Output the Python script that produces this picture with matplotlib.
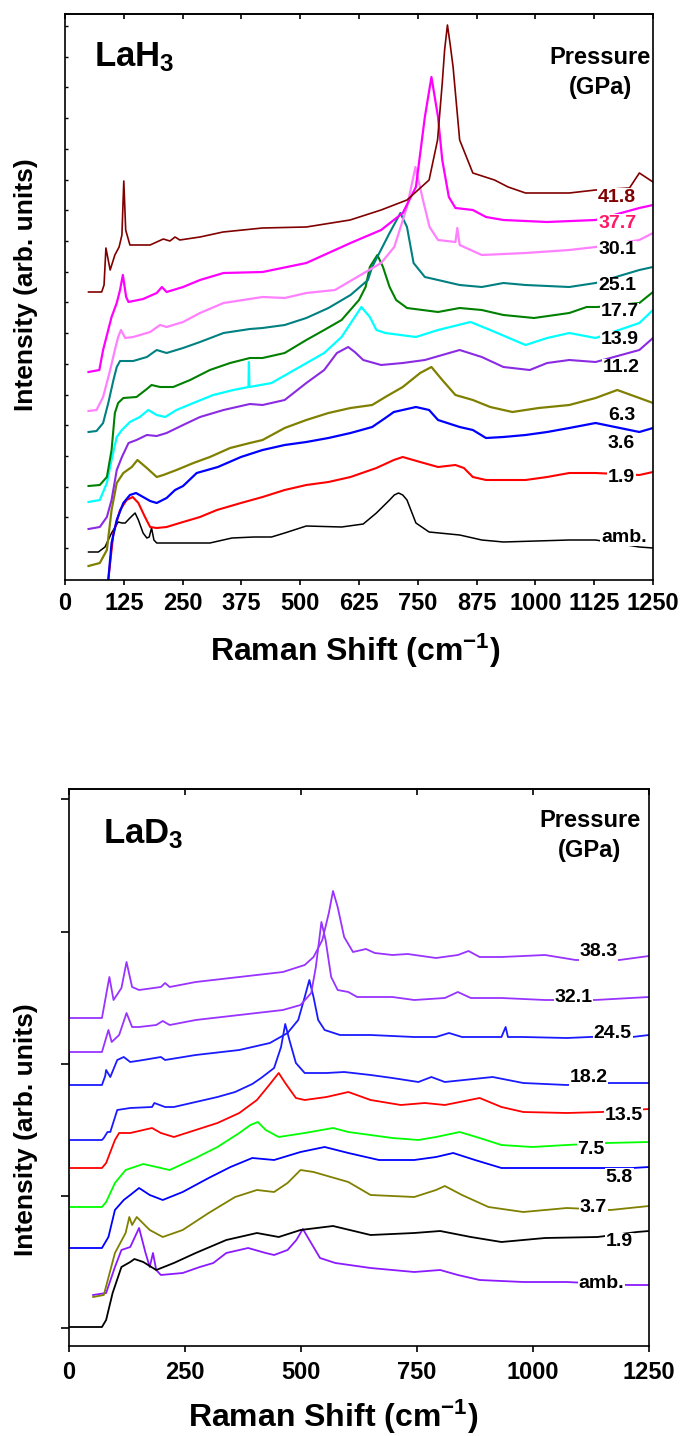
import numpy as np
import matplotlib
matplotlib.use('Agg')
import matplotlib.pyplot as plt

# ---------------- LaH3 spectra (Raman shift in cm-1, intensity in arb. units, offset) ----------------
h_amb_x = [50, 71, 85, 99, 113, 121, 128, 138, 149, 156, 166, 174, 179, 184, 189, 195, 253, 308, 355, 402,
           439, 467, 513, 588, 634, 662, 690, 700, 709, 718, 727, 746, 774, 839, 886, 932, 1072, 1128, 1221, 1250]
h_amb_y = [28, 28, 33, 47, 58, 57, 57, 62, 67, 60, 47, 42, 43, 52, 40, 37, 37, 37, 42, 43,
           43, 47, 54, 53, 56, 67, 80, 85, 87, 85, 80, 57, 48, 45, 40, 38, 40, 40, 33, 32]

h_19_x = [85, 92, 103, 117, 131, 144, 156, 170, 181, 195, 216, 251, 287, 323, 374, 420, 467, 513, 560, 607,
          662, 699, 718, 755, 793, 830, 848, 867, 895, 979, 1025, 1072, 1128, 1221, 1250]
h_19_y = [-36, 0, 47, 70, 80, 83, 77, 63, 53, 52, 53, 58, 63, 70, 77, 83, 90, 95, 98, 103,
          112, 120, 123, 118, 113, 115, 112, 103, 100, 100, 103, 107, 107, 105, 108]

h_36_x = [85, 92, 99, 110, 124, 138, 151, 166, 181, 195, 216, 234, 251, 280, 325, 374, 420, 467, 513, 560,
          607, 653, 681, 699, 746, 774, 793, 839, 867, 895, 932, 979, 1025, 1072, 1128, 1221, 1250]
h_36_y = [-36, 0, 37, 60, 77, 85, 87, 83, 79, 77, 82, 90, 94, 107, 113, 123, 130, 135, 138, 142,
          147, 153, 162, 168, 173, 170, 160, 153, 150, 142, 143, 145, 148, 152, 157, 148, 152]

h_63_x = [50, 74, 89, 99, 110, 124, 142, 154, 174, 195, 209, 237, 273, 308, 351, 393, 420, 467, 513, 560,
          607, 653, 681, 718, 755, 779, 802, 830, 867, 904, 951, 1007, 1072, 1128, 1174, 1221, 1250]
h_63_y = [14, 17, 30, 70, 97, 107, 113, 120, 112, 103, 105, 110, 117, 123, 132, 137, 140, 152, 160, 167,
          172, 175, 183, 193, 207, 213, 200, 185, 180, 173, 168, 172, 175, 182, 190, 182, 177]

h_112_x = [50, 74, 89, 99, 110, 121, 135, 152, 174, 195, 216, 251, 287, 337, 393, 420, 467, 513, 551, 578,
           602, 616, 634, 672, 718, 765, 839, 886, 932, 988, 1025, 1072, 1128, 1221, 1250]
h_112_y = [51, 53, 63, 80, 110, 123, 137, 140, 145, 144, 147, 155, 163, 170, 176, 175, 180, 197, 210, 227,
           233, 228, 220, 215, 217, 220, 230, 223, 213, 210, 217, 220, 218, 230, 242]

h_139_x = [50, 74, 89, 99, 110, 121, 138, 159, 177, 195, 213, 237, 273, 315, 358, 390, 391, 392, 439, 495,
           551, 588, 616, 630, 648, 662, 681, 746, 793, 862, 904, 979, 1025, 1072, 1128, 1221, 1250]
h_139_y = [78, 80, 97, 120, 143, 150, 158, 163, 170, 165, 163, 170, 177, 185, 190, 193, 218, 193, 197, 212,
           227, 243, 263, 273, 263, 250, 247, 243, 250, 258, 250, 235, 242, 247, 242, 257, 270]

h_177_x = [50, 74, 89, 99, 106, 113, 124, 152, 174, 184, 202, 230, 266, 308, 351, 393, 420, 467, 513, 551,
           588, 625, 639, 648, 664, 676, 690, 704, 727, 793, 839, 886, 932, 997, 1072, 1109, 1132, 1221, 1250]
h_177_y = [94, 95, 103, 130, 167, 177, 182, 183, 191, 195, 193, 193, 200, 210, 217, 222, 222, 227, 240, 250,
           260, 280, 293, 313, 325, 313, 293, 280, 272, 268, 272, 270, 265, 262, 267, 273, 273, 277, 288]

h_251_x = [50, 67, 81, 92, 103, 110, 117, 145, 174, 195, 216, 251, 287, 337, 393, 420, 467, 513, 560, 607,
           644, 653, 690, 713, 727, 741, 765, 793, 839, 886, 932, 979, 1072, 1128, 1221, 1250]
h_251_y = [148, 149, 157, 177, 200, 213, 219, 219, 223, 230, 227, 232, 238, 247, 251, 252, 255, 262, 272, 285,
           300, 313, 347, 367, 353, 317, 303, 300, 295, 293, 297, 295, 293, 297, 310, 313]

h_301_x = [50, 67, 81, 96, 106, 113, 119, 128, 145, 181, 202, 216, 251, 287, 337, 420, 467, 513, 574, 672,
           700, 727, 745, 761, 775, 793, 830, 834, 839, 886, 979, 1072, 1128, 1221, 1250]
h_301_y = [169, 170, 183, 210, 230, 243, 250, 242, 243, 248, 255, 253, 258, 267, 277, 283, 282, 287, 290, 317,
           333, 373, 413, 380, 353, 340, 338, 352, 335, 325, 327, 330, 333, 340, 347]

h_377_x = [50, 73, 81, 99, 110, 117, 123, 130, 135, 166, 195, 206, 216, 251, 287, 337, 420, 513, 607, 672,
           718, 746, 765, 779, 793, 802, 816, 830, 867, 895, 932, 1025, 1128, 1221, 1250]
h_377_y = [208, 210, 230, 263, 277, 290, 305, 283, 278, 281, 287, 293, 288, 293, 300, 307, 308, 317, 337, 350,
           367, 393, 463, 503, 463, 420, 383, 372, 370, 363, 360, 358, 360, 372, 375]

h_418_x = [50, 78, 83, 87, 96, 106, 115, 121, 125, 129, 138, 152, 181, 209, 223, 234, 244, 287, 336, 420,
           513, 606, 672, 727, 774, 792, 802, 807, 813, 819, 825, 839, 867, 913, 942, 979, 1072, 1128, 1200, 1221, 1250]
h_418_y = [288, 288, 295, 332, 310, 325, 333, 345, 399, 350, 335, 335, 335, 341, 339, 343, 340, 343, 348, 352,
           353, 360, 370, 380, 400, 440, 497, 530, 555, 535, 513, 440, 407, 400, 393, 387, 387, 390, 392, 407, 398]

lah_labels = ['amb.', '1.9', '3.6', '6.3', '11.2', '13.9', '17.7', '25.1', '30.1', '37.7', '41.8']

# ---------------- LaD3 spectra ----------------
d_amb_x = [52, 80, 99, 113, 132, 151, 165, 174, 181, 188, 198, 245, 282, 311, 339, 386, 424, 442, 471, 490,
           504, 518, 541, 574, 650, 697, 744, 800, 838, 885, 979, 1073, 1205, 1250]
d_amb_y = [51, 53, 79, 96, 99, 118, 93, 79, 93, 76, 71, 73, 79, 83, 93, 98, 93, 91, 96, 106,
           117, 106, 88, 83, 78, 76, 74, 76, 71, 66, 64, 64, 61, 61]

d_19_x = [0, 71, 80, 94, 113, 132, 141, 160, 188, 226, 273, 339, 405, 452, 499, 569, 650, 744, 800, 866,
          932, 1026, 1139, 1224, 1250]
d_19_y = [19, 19, 26, 53, 79, 84, 87, 84, 76, 83, 93, 106, 113, 109, 116, 120, 111, 113, 115, 109,
          104, 108, 109, 114, 115]

d_37_x = [52, 75, 99, 122, 130, 136, 146, 174, 202, 245, 301, 358, 405, 442, 471, 499, 527, 602, 650, 744,
          791, 810, 847, 904, 979, 1073, 1167, 1250]
d_37_y = [49, 51, 93, 113, 129, 121, 129, 116, 109, 116, 133, 149, 156, 154, 163, 176, 174, 164, 151, 149,
          156, 160, 151, 139, 134, 138, 136, 140]

d_58_x = [0, 0, 71, 85, 99, 118, 132, 151, 174, 202, 245, 301, 348, 395, 442, 499, 551, 602, 668, 744,
          791, 828, 875, 932, 979, 1073, 1214, 1250]
d_58_y = [135, 98, 98, 109, 136, 146, 151, 158, 151, 146, 154, 168, 179, 188, 186, 194, 199, 193, 186, 186,
          189, 193, 186, 178, 178, 178, 178, 179]

d_75_x = [0, 0, 71, 80, 99, 122, 160, 198, 217, 273, 320, 367, 391, 407, 424, 452, 508, 569, 602, 697,
          753, 791, 842, 885, 932, 998, 1073, 1158, 1250]
d_75_y = [171, 139, 139, 144, 163, 176, 182, 178, 176, 188, 199, 213, 221, 224, 216, 209, 213, 218, 214, 208,
          206, 209, 214, 208, 201, 199, 201, 203, 204]

d_135_x = [0, 0, 71, 80, 99, 108, 132, 179, 198, 226, 273, 320, 367, 405, 428, 452, 466, 489, 508, 555,
           602, 650, 715, 767, 810, 885, 932, 979, 1073, 1148, 1250]
d_135_y = [204, 178, 178, 183, 206, 213, 213, 218, 213, 209, 216, 223, 233, 246, 259, 273, 263, 248, 246, 249,
           254, 246, 241, 243, 241, 248, 239, 234, 233, 234, 237]

d_182_x = [0, 71, 75, 83, 89, 104, 132, 179, 184, 207, 226, 273, 320, 358, 395, 414, 442, 457, 466, 475,
           489, 508, 555, 593, 650, 697, 753, 781, 810, 913, 979, 1073, 1167, 1250]
d_182_y = [206, 206, 208, 214, 214, 236, 238, 239, 243, 239, 239, 244, 249, 254, 262, 268, 278, 299, 322, 306,
           283, 273, 273, 274, 271, 268, 264, 269, 264, 269, 263, 261, 263, 263]

d_245_x = [0, 0, 71, 78, 80, 89, 104, 118, 132, 160, 198, 207, 273, 367, 433, 471, 494, 508, 518, 527,
           537, 551, 584, 650, 744, 791, 819, 847, 932, 941, 946, 979, 1073, 1172, 1214, 1250]
d_245_y = [294, 261, 261, 270, 276, 269, 286, 289, 284, 286, 289, 286, 291, 296, 303, 313, 326, 349, 366, 349,
           326, 316, 311, 311, 309, 309, 313, 309, 309, 319, 309, 309, 308, 310, 309, 311]

d_321_x = [0, 71, 85, 92, 108, 124, 136, 151, 188, 202, 217, 273, 367, 461, 499, 522, 532, 544, 553, 565,
           579, 602, 621, 697, 744, 810, 838, 866, 932, 1026, 1134, 1250]
d_321_y = [294, 294, 316, 304, 311, 333, 319, 319, 321, 325, 321, 326, 331, 336, 341, 353, 379, 424, 406, 369,
           356, 354, 349, 349, 346, 348, 354, 348, 348, 346, 346, 349]

d_383_x = [0, 0, 71, 87, 96, 113, 124, 136, 151, 198, 207, 217, 273, 367, 461, 508, 527, 546, 560, 569,
           579, 593, 612, 640, 659, 697, 730, 791, 838, 861, 885, 932, 1026, 1092, 1186, 1250]
d_383_y = [393, 328, 328, 369, 346, 358, 384, 359, 356, 359, 363, 359, 364, 369, 374, 381, 389, 406, 433, 455,
           439, 409, 394, 397, 393, 391, 392, 388, 391, 395, 389, 389, 391, 386, 386, 390]

lad_labels = ['amb.', '1.9', '3.7', '5.8', '7.5', '13.5', '18.2', '24.5', '32.1', '38.3']

# ---------------- style ----------------
plt.rcParams['font.family'] = ['Liberation Sans', 'DejaVu Sans']
plt.rcParams['font.weight'] = 'bold'
plt.rcParams['mathtext.fontset'] = 'custom'
plt.rcParams['mathtext.rm'] = 'Liberation Sans:bold'
plt.rcParams['mathtext.default'] = 'rm'
plt.rcParams['axes.linewidth'] = 1.2

W, H = 683, 1436
fig = plt.figure(figsize=(W / 100, H / 100), dpi=100)


def px_axes(left, top, right, bottom):
    return fig.add_axes([left / W, 1 - bottom / H, (right - left) / W, (bottom - top) / H])


ax1 = px_axes(65, 14, 653, 580)
ax2 = px_axes(69, 789, 649, 1346)

# top panel
lah_series = [(h_amb_x, h_amb_y), (h_19_x, h_19_y), (h_36_x, h_36_y), (h_63_x, h_63_y),
              (h_112_x, h_112_y), (h_139_x, h_139_y), (h_177_x, h_177_y), (h_251_x, h_251_y),
              (h_301_x, h_301_y), (h_377_x, h_377_y), (h_418_x, h_418_y)]
lah_colors = ['black', '#ff0000', '#0000ff', '#808000', '#8a2be2', '#00ffff', '#008000',
              '#008080', '#ff80ff', '#ff00ff', '#800000']
lah_widths = [1.1, 1.5, 1.6, 1.6, 1.5, 1.6, 1.5, 1.5, 1.6, 1.6, 1.2]
lah_text_colors = ['black'] * 9 + ['#ff1a66', '#800000']
lah_label_pos = [(1188, 43), (1183, 102), (1183, 137), (1183, 165), (1183, 212), (1179, 240),
                 (1179, 268), (1174, 294), (1174, 330), (1174, 357), (1174, 383)]

for (x, y), c, lw in zip(lah_series, lah_colors, lah_widths):
    ax1.plot(x, y, color=c, lw=lw)
for lab, (lx, ly), tc in zip(lah_labels, lah_label_pos, lah_text_colors):
    ax1.text(lx, ly, lab, color=tc, fontsize=14, ha='center', va='center', zorder=5,
             bbox=dict(facecolor='white', edgecolor='none', pad=0.5))

ax1.set_xlim(0, 1250)
ax1.set_ylim(0, 566)
xt1 = np.arange(0, 1251, 125)
ax1.set_xticks(xt1)
ax1.set_xticklabels([str(v) for v in xt1], fontsize=17, fontweight='bold')
ax1.set_yticks(np.arange(32, 566, 30.7))
ax1.set_yticklabels([])
ax1.tick_params(axis='y', direction='in', length=2, width=1)
ax1.tick_params(axis='x', direction='out', length=3.5, width=1.2, pad=5.5)
top1 = ax1.secondary_xaxis('top')
top1.set_xticks(xt1)
top1.tick_params(direction='in', length=3.5, width=1.2, labeltop=False)

ax1.text(0.049, 0.907, 'LaH$_3$', transform=ax1.transAxes, fontsize=25, ha='left', va='baseline')
ax1.text(0.910, 0.924, 'Pressure', transform=ax1.transAxes, fontsize=17, ha='center', va='center')
ax1.text(0.910, 0.871, '(GPa)', transform=ax1.transAxes, fontsize=17, ha='center', va='center')

# bottom panel
lad_series = [(d_amb_x, d_amb_y), (d_19_x, d_19_y), (d_37_x, d_37_y), (d_58_x, d_58_y),
              (d_75_x, d_75_y), (d_135_x, d_135_y), (d_182_x, d_182_y), (d_245_x, d_245_y),
              (d_321_x, d_321_y), (d_383_x, d_383_y)]
lad_colors = ['#8b1aff', 'black', '#808000', '#0000ff', '#00ff00', '#ff0000', '#1a1aff',
              '#1a1aff', '#9933ff', '#9933ff']
lad_label_pos = [(1148, 63), (1186, 104), (1130, 138), (1186, 169), (1125, 197), (1195, 231),
                 (1120, 268), (1172, 313), (1087, 349), (1141, 394)]

for (x, y), c in zip(lad_series, lad_colors):
    ax2.plot(x, y, color=c, lw=1.3)
for lab, (lx, ly) in zip(lad_labels, lad_label_pos):
    ax2.text(lx, ly, lab, color='black', fontsize=14, ha='center', va='center', zorder=5,
             bbox=dict(facecolor='white', edgecolor='none', pad=0.5))

ax2.set_xlim(0, 1250)
ax2.set_ylim(0, 557)
xt2 = np.arange(0, 1251, 250)
ax2.set_xticks(xt2)
ax2.set_xticklabels([str(v) for v in xt2], fontsize=17, fontweight='bold')
ax2.set_yticks([18, 150, 282, 414, 547])
ax2.set_yticklabels([])
ax2.tick_params(axis='y', direction='out', length=6, width=1.2)
ax2.tick_params(axis='x', direction='out', length=4.5, width=1.2, pad=6)
top2 = ax2.secondary_xaxis('top')
top2.set_xticks(xt2)
top2.tick_params(direction='in', length=4.5, width=1.2, labeltop=False)

ax2.text(0.059, 0.903, 'LaD$_3$', transform=ax2.transAxes, fontsize=25, ha='left', va='baseline')
ax2.text(0.898, 0.944, 'Pressure', transform=ax2.transAxes, fontsize=17, ha='center', va='center')
ax2.text(0.898, 0.890, '(GPa)', transform=ax2.transAxes, fontsize=17, ha='center', va='center')

# axis titles
fig.text(26 / W, 1 - 285 / H, 'Intensity (arb. units)', rotation=90, ha='center', va='center', fontsize=19)
fig.text(26 / W, 1 - 1130 / H, 'Intensity (arb. units)', rotation=90, ha='center', va='center', fontsize=19)
fig.text(355 / W, 1 - 661 / H, 'Raman Shift (cm$^{-1}$)', ha='center', va='baseline', fontsize=23)
fig.text(333 / W, 1 - 1427 / H, 'Raman Shift (cm$^{-1}$)', ha='center', va='baseline', fontsize=23)

fig.savefig('out.png', dpi=100)
